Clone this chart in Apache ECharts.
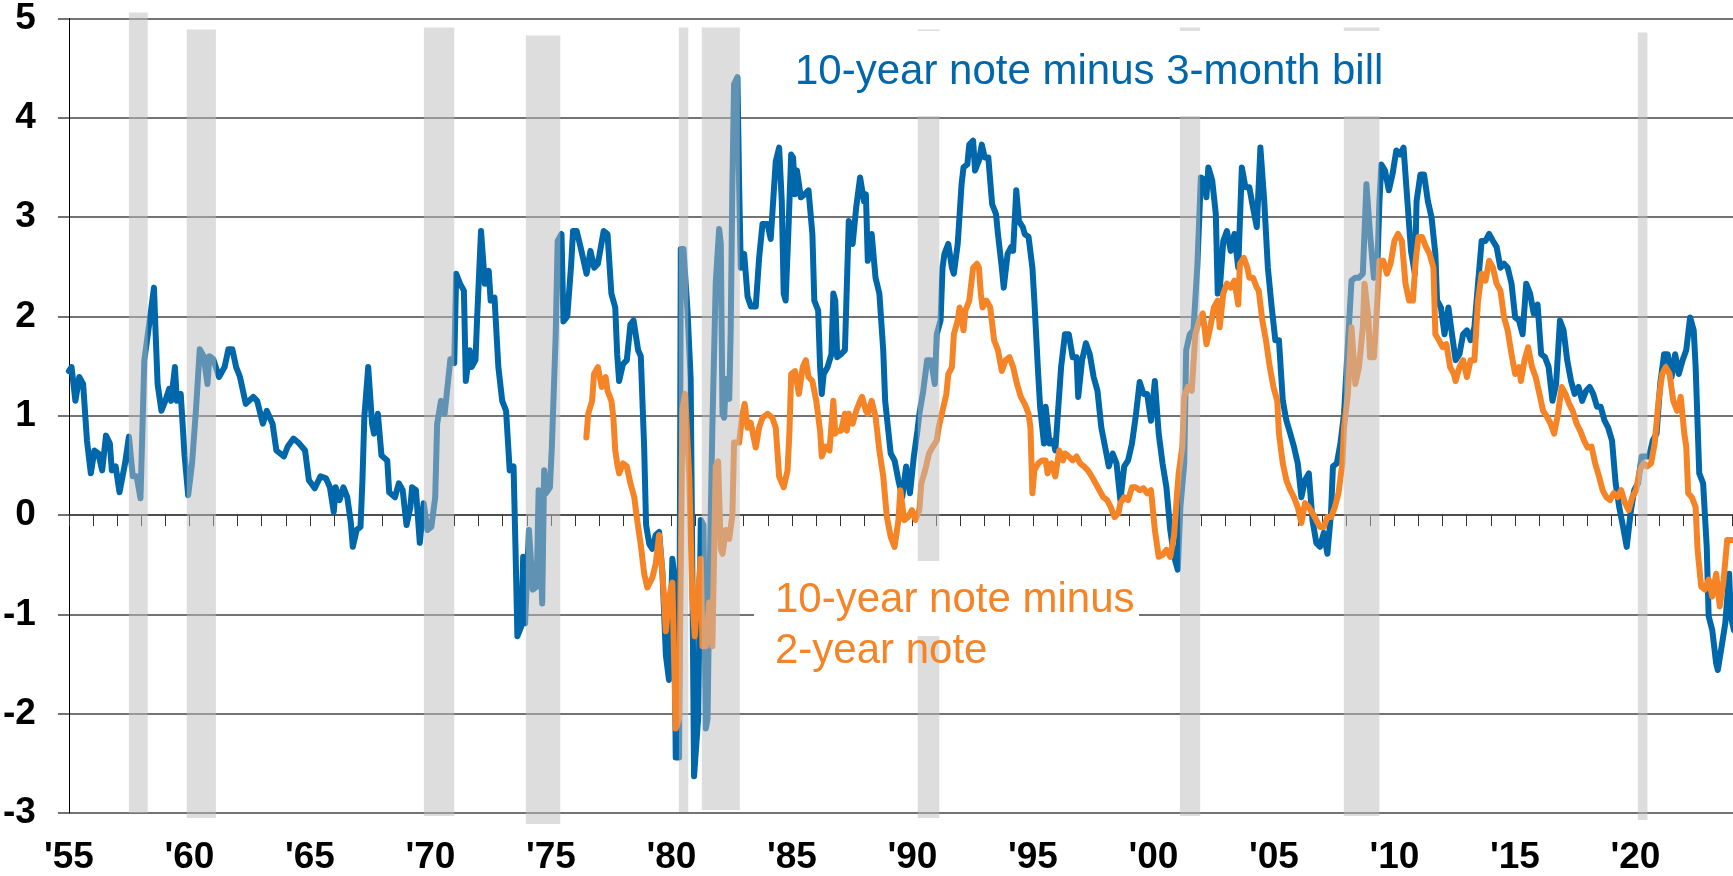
<!DOCTYPE html>
<html>
<head>
<meta charset="utf-8">
<title>Yield curve spreads</title>
<script src="https://cdn.jsdelivr.net/npm/echarts@6/dist/echarts.min.js"></script>
<style>
  html, body { margin: 0; padding: 0; background: #fff; }
  #chart { width: 1733px; height: 876px; }
</style>
</head>
<body>
<div id="chart"></div>
<script>
// 10-year note minus 3-month bill, [year, spread in pct points]
const spread10y3m = [
  [1955.0, 1.45], [1955.11, 1.49], [1955.27, 1.15], [1955.43, 1.39], [1955.59, 1.32], [1955.75, 0.75],
  [1955.91, 0.42], [1956.06, 0.65], [1956.22, 0.62], [1956.38, 0.45], [1956.54, 0.8], [1956.7, 0.72],
  [1956.78, 0.45], [1956.94, 0.49], [1957.1, 0.23], [1957.33, 0.52], [1957.49, 0.79], [1957.65, 0.39],
  [1957.81, 0.39], [1957.97, 0.17], [1958.13, 1.56], [1958.37, 1.99], [1958.53, 2.29], [1958.6, 1.82],
  [1958.68, 1.32], [1958.84, 1.05], [1959.0, 1.15], [1959.16, 1.27], [1959.24, 1.15], [1959.4, 1.49],
  [1959.48, 1.15], [1959.64, 1.22], [1959.8, 0.6], [1959.95, 0.2], [1960.11, 0.52], [1960.27, 1.05],
  [1960.43, 1.67], [1960.59, 1.6], [1960.75, 1.32], [1960.83, 1.6], [1960.99, 1.57], [1961.23, 1.39],
  [1961.46, 1.49], [1961.62, 1.67], [1961.78, 1.67], [1961.94, 1.49], [1962.1, 1.39], [1962.34, 1.12],
  [1962.65, 1.19], [1962.81, 1.15], [1963.05, 0.92], [1963.21, 1.05], [1963.45, 0.92], [1963.61, 0.65],
  [1963.92, 0.59], [1964.08, 0.69], [1964.32, 0.77], [1964.56, 0.72], [1964.8, 0.65], [1964.96, 0.35],
  [1965.2, 0.27], [1965.44, 0.39], [1965.67, 0.37], [1965.83, 0.28], [1965.99, 0.03], [1966.07, 0.28],
  [1966.23, 0.15], [1966.39, 0.28], [1966.55, 0.18], [1966.7, -0.08], [1966.78, -0.32], [1966.94, -0.15],
  [1967.1, -0.12], [1967.18, 0.35], [1967.26, 0.99], [1967.42, 1.49], [1967.58, 0.92], [1967.66, 0.82],
  [1967.82, 1.02], [1967.97, 0.6], [1968.21, 0.55], [1968.29, 0.23], [1968.53, 0.18], [1968.69, 0.32],
  [1968.85, 0.25], [1969.01, -0.1], [1969.17, 0.08], [1969.24, 0.28], [1969.4, 0.25], [1969.56, -0.28],
  [1969.72, 0.12], [1969.88, -0.15], [1970.04, -0.12], [1970.2, 0.18], [1970.28, 0.92], [1970.44, 1.15],
  [1970.59, 1.02], [1970.83, 1.57], [1970.99, 1.53], [1971.07, 2.43], [1971.23, 2.33], [1971.39, 2.26],
  [1971.47, 1.35], [1971.63, 1.66], [1971.71, 1.49], [1971.87, 1.56], [1971.94, 1.99], [1972.1, 2.86],
  [1972.26, 2.33], [1972.42, 2.46], [1972.5, 2.16], [1972.66, 2.19], [1972.82, 1.49], [1972.98, 1.15],
  [1973.14, 1.05], [1973.29, 0.45], [1973.45, 0.49], [1973.53, -0.32], [1973.61, -1.22], [1973.77, -1.12],
  [1973.85, -0.42], [1973.93, -1.09], [1974.09, -0.15], [1974.25, -0.75], [1974.41, -0.72], [1974.49, 0.25],
  [1974.64, -0.89], [1974.72, 0.45], [1974.8, 0.22], [1974.96, 0.28], [1975.04, 0.69], [1975.2, 1.82],
  [1975.28, 2.76], [1975.44, 2.83], [1975.52, 1.95], [1975.68, 2.0], [1975.84, 2.52], [1975.92, 2.86],
  [1976.07, 2.86], [1976.23, 2.7], [1976.48, 2.43], [1976.64, 2.66], [1976.8, 2.49], [1976.95, 2.53],
  [1977.19, 2.86], [1977.35, 2.83], [1977.51, 2.23], [1977.67, 2.09], [1977.75, 1.62], [1977.83, 1.35],
  [1977.99, 1.52], [1978.15, 1.56], [1978.3, 1.92], [1978.43, 1.96], [1978.62, 1.66], [1978.73, 1.6],
  [1978.87, 0.68], [1978.95, -0.1], [1979.08, -0.29], [1979.21, -0.34], [1979.35, -0.2], [1979.49, -0.17],
  [1979.63, -0.59], [1979.77, -1.41], [1979.9, -1.66], [1980.04, -0.44], [1980.11, -0.59], [1980.18, -2.44],
  [1980.32, -2.44], [1980.39, 2.68], [1980.5, 2.68], [1980.67, 2.05], [1980.8, 1.37], [1980.87, -0.59],
  [1980.94, -2.63], [1981.01, -2.63], [1981.11, -2.05], [1981.22, -0.05], [1981.33, -0.1], [1981.43, -2.15],
  [1981.5, -2.05], [1981.57, -0.83], [1981.7, 0.88], [1981.84, 2.34], [1981.98, 2.88], [1982.05, 2.73],
  [1982.12, 1.02], [1982.19, 0.98], [1982.26, 1.37], [1982.4, 1.17], [1982.46, 1.85], [1982.53, 3.32],
  [1982.6, 4.34], [1982.74, 4.41], [1982.81, 3.32], [1982.88, 2.49], [1983.02, 2.63], [1983.16, 2.2],
  [1983.3, 2.1], [1983.5, 2.1], [1983.64, 2.59], [1983.78, 2.93], [1983.99, 2.93], [1984.12, 2.78],
  [1984.33, 3.56], [1984.47, 3.7], [1984.58, 3.16], [1984.66, 2.23], [1984.74, 2.16], [1984.85, 2.83],
  [1984.97, 3.63], [1985.05, 3.6], [1985.13, 3.23], [1985.21, 3.47], [1985.37, 3.2], [1985.53, 3.23],
  [1985.69, 3.27], [1985.85, 2.83], [1985.93, 2.16], [1986.09, 2.06], [1986.17, 1.49], [1986.24, 1.22],
  [1986.32, 1.42], [1986.48, 1.49], [1986.64, 1.62], [1986.72, 2.23], [1986.8, 2.16], [1986.88, 1.59],
  [1987.04, 1.62], [1987.2, 1.66], [1987.36, 2.96], [1987.52, 2.73], [1987.67, 3.1], [1987.83, 3.4],
  [1987.99, 3.16], [1988.07, 3.23], [1988.15, 2.56], [1988.31, 2.83], [1988.39, 2.83], [1988.47, 2.39],
  [1988.63, 2.23], [1988.79, 1.66], [1988.87, 1.15], [1989.1, 0.62], [1989.26, 0.55], [1989.42, 0.35],
  [1989.58, 0.18], [1989.74, 0.49], [1989.9, 0.22], [1990.06, 0.59], [1990.21, 0.85], [1990.29, 1.02],
  [1990.45, 1.25], [1990.61, 1.56], [1990.77, 1.56], [1990.93, 1.32], [1991.01, 1.82], [1991.17, 1.96],
  [1991.25, 2.49], [1991.33, 2.63], [1991.49, 2.73], [1991.64, 2.49], [1991.72, 2.43], [1991.88, 2.73],
  [1992.04, 3.33], [1992.12, 3.5], [1992.28, 3.53], [1992.36, 3.73], [1992.52, 3.77], [1992.6, 3.47],
  [1992.76, 3.57], [1992.88, 3.73], [1993.0, 3.6], [1993.15, 3.6], [1993.31, 3.13], [1993.47, 3.03],
  [1993.55, 2.83], [1993.71, 2.49], [1993.79, 2.29], [1993.95, 2.63], [1994.1, 2.7], [1994.18, 2.66],
  [1994.31, 3.27], [1994.42, 2.96], [1994.58, 2.9], [1994.66, 2.83], [1994.82, 2.8], [1994.98, 2.49],
  [1995.06, 2.16], [1995.22, 1.42], [1995.3, 1.09], [1995.46, 0.72], [1995.53, 1.09], [1995.69, 0.72],
  [1995.85, 0.75], [1995.93, 0.65], [1996.17, 1.49], [1996.33, 1.82], [1996.49, 1.82], [1996.65, 1.59],
  [1996.81, 1.59], [1996.88, 1.19], [1997.04, 1.56], [1997.2, 1.73], [1997.36, 1.62], [1997.52, 1.39],
  [1997.68, 1.25], [1997.84, 0.88], [1998.0, 0.68], [1998.15, 0.49], [1998.31, 0.62], [1998.47, 0.52],
  [1998.63, 0.15], [1998.79, 0.49], [1998.95, 0.55], [1999.11, 0.72], [1999.27, 1.0], [1999.43, 1.34],
  [1999.59, 1.22], [1999.74, 1.22], [1999.9, 0.95], [2000.06, 1.35], [2000.22, 0.82], [2000.38, 0.52],
  [2000.54, 0.28], [2000.7, -0.15], [2000.86, -0.42], [2001.01, -0.55], [2001.12, 0.08], [2001.28, 0.52],
  [2001.36, 1.66], [2001.51, 1.82], [2001.66, 1.86], [2001.82, 2.49], [2001.97, 3.4], [2002.13, 3.37],
  [2002.2, 3.2], [2002.28, 3.5], [2002.44, 3.37], [2002.59, 3.03], [2002.67, 2.23], [2002.75, 2.26],
  [2002.9, 2.76], [2003.05, 2.86], [2003.21, 2.66], [2003.36, 2.83], [2003.52, 2.49], [2003.67, 3.5],
  [2003.82, 3.3], [2003.98, 3.3], [2004.13, 3.1], [2004.29, 2.9], [2004.44, 3.7], [2004.6, 3.16],
  [2004.75, 2.49], [2004.91, 2.09], [2005.06, 1.76], [2005.21, 1.76], [2005.37, 1.15], [2005.52, 0.95],
  [2005.68, 0.82], [2005.83, 0.69], [2005.99, 0.52], [2006.14, 0.18], [2006.29, 0.35], [2006.45, 0.42],
  [2006.6, -0.05], [2006.76, -0.28], [2006.91, -0.32], [2007.07, -0.18], [2007.22, -0.39], [2007.37, 0.02],
  [2007.45, 0.49], [2007.61, 0.52], [2007.76, 0.72], [2007.91, 1.02], [2008.07, 1.72], [2008.22, 2.36],
  [2008.38, 2.39], [2008.53, 2.39], [2008.69, 2.43], [2008.84, 3.33], [2008.99, 2.83], [2009.15, 2.39],
  [2009.3, 2.56], [2009.38, 3.16], [2009.46, 3.53], [2009.61, 3.47], [2009.77, 3.27], [2009.92, 3.43],
  [2010.08, 3.67], [2010.23, 3.63], [2010.38, 3.7], [2010.54, 3.16], [2010.69, 2.66], [2010.85, 2.43],
  [2010.92, 3.16], [2011.08, 3.43], [2011.23, 3.43], [2011.39, 3.16], [2011.54, 3.0], [2011.7, 2.63],
  [2011.77, 2.16], [2011.93, 2.09], [2012.08, 1.82], [2012.24, 2.09], [2012.39, 1.82], [2012.54, 1.56],
  [2012.7, 1.62], [2012.85, 1.82], [2013.01, 1.86], [2013.16, 1.76], [2013.32, 1.89], [2013.47, 2.33],
  [2013.62, 2.76], [2013.78, 2.76], [2013.93, 2.83], [2014.09, 2.76], [2014.24, 2.7], [2014.4, 2.49],
  [2014.55, 2.53], [2014.7, 2.49], [2014.86, 2.33], [2015.01, 1.99], [2015.17, 1.96], [2015.32, 1.82],
  [2015.47, 2.33], [2015.63, 2.23], [2015.78, 2.03], [2015.94, 2.12], [2016.09, 1.62], [2016.25, 1.59],
  [2016.4, 1.49], [2016.56, 1.15], [2016.71, 1.32], [2016.87, 1.96], [2017.02, 1.86], [2017.17, 1.56],
  [2017.33, 1.35], [2017.48, 1.22], [2017.64, 1.29], [2017.79, 1.15], [2017.95, 1.25], [2018.1, 1.29],
  [2018.25, 1.22], [2018.41, 1.09], [2018.56, 1.09], [2018.72, 0.95], [2018.87, 0.88], [2019.03, 0.75],
  [2019.18, 0.32], [2019.33, 0.08], [2019.49, -0.12], [2019.64, -0.32], [2019.8, 0.02], [2019.95, 0.25],
  [2020.11, 0.32], [2020.26, 0.59], [2020.41, 0.59], [2020.57, 0.59], [2020.72, 0.75], [2020.88, 0.82],
  [2021.03, 1.32], [2021.19, 1.62], [2021.34, 1.62], [2021.5, 1.39], [2021.65, 1.62], [2021.8, 1.42],
  [2021.96, 1.56], [2022.11, 1.66], [2022.27, 1.99], [2022.42, 1.86], [2022.5, 1.49], [2022.65, 0.42],
  [2022.81, 0.32], [2022.96, -0.32], [2023.04, -1.02], [2023.19, -1.16], [2023.35, -1.49], [2023.42, -1.56],
  [2023.58, -1.32], [2023.73, -1.09], [2023.89, -0.59], [2023.96, -1.02], [2024.09, -1.16]
];

// 10-year note minus 2-year note, [year, spread in pct points]
const spread10y2y = [
  [1976.47, 0.78], [1976.55, 1.02], [1976.71, 1.15], [1976.79, 1.42], [1976.95, 1.49], [1977.11, 1.29],
  [1977.27, 1.39], [1977.35, 1.25], [1977.51, 1.15], [1977.59, 0.99], [1977.67, 0.65], [1977.75, 0.52],
  [1977.83, 0.42], [1977.99, 0.52], [1978.15, 0.49], [1978.3, 0.32], [1978.46, 0.18], [1978.54, 0.02],
  [1978.62, -0.12], [1978.73, -0.3], [1978.87, -0.59], [1979.0, -0.73], [1979.21, -0.63], [1979.35, -0.49],
  [1979.49, -0.2], [1979.63, -0.59], [1979.77, -1.17], [1979.9, -0.83], [1980.04, -0.68], [1980.18, -2.15],
  [1980.32, -2.05], [1980.46, 1.07], [1980.57, 1.22], [1980.74, 0.39], [1980.87, -0.83], [1980.97, -1.22],
  [1981.08, -0.83], [1981.22, -0.44], [1981.29, -1.32], [1981.43, -1.32], [1981.57, -0.88], [1981.7, -1.32],
  [1981.84, 0.49], [1981.94, 0.54], [1982.05, -0.34], [1982.12, -0.39], [1982.26, -0.15], [1982.4, -0.24],
  [1982.53, 0.0], [1982.6, 0.73], [1982.81, 0.73], [1982.95, 1.02], [1983.04, 1.12], [1983.16, 0.88],
  [1983.29, 0.93], [1983.5, 0.68], [1983.64, 0.88], [1983.78, 0.98], [1983.99, 1.02], [1984.19, 0.98],
  [1984.33, 0.88], [1984.47, 0.39], [1984.66, 0.28], [1984.82, 0.45], [1984.9, 0.85], [1984.97, 1.42],
  [1985.13, 1.45], [1985.29, 1.22], [1985.45, 1.49], [1985.58, 1.56], [1985.69, 1.39], [1985.85, 1.35],
  [1986.01, 1.15], [1986.17, 0.85], [1986.24, 0.59], [1986.4, 0.69], [1986.56, 0.65], [1986.72, 1.15],
  [1986.8, 0.82], [1986.88, 0.85], [1987.04, 0.85], [1987.2, 1.02], [1987.28, 0.85], [1987.36, 1.02],
  [1987.52, 0.92], [1987.67, 1.05], [1987.83, 1.15], [1987.91, 1.19], [1988.07, 1.05], [1988.15, 1.02],
  [1988.31, 1.15], [1988.47, 0.99], [1988.63, 0.65], [1988.79, 0.39], [1988.94, -0.02], [1989.1, -0.22],
  [1989.26, -0.32], [1989.42, -0.05], [1989.5, 0.25], [1989.66, -0.05], [1989.82, -0.02], [1989.98, 0.05],
  [1990.13, -0.05], [1990.29, 0.05], [1990.37, 0.32], [1990.53, 0.45], [1990.69, 0.62], [1990.85, 0.69],
  [1991.01, 0.75], [1991.09, 0.88], [1991.25, 1.05], [1991.41, 1.22], [1991.49, 1.42], [1991.64, 1.49],
  [1991.72, 1.82], [1991.88, 1.96], [1991.96, 2.09], [1992.12, 1.86], [1992.2, 2.06], [1992.36, 2.16],
  [1992.52, 2.49], [1992.68, 2.53], [1992.76, 2.49], [1992.84, 2.23], [1992.91, 2.09], [1993.07, 2.16],
  [1993.23, 2.09], [1993.39, 1.76], [1993.55, 1.66], [1993.71, 1.45], [1993.87, 1.56], [1994.03, 1.59],
  [1994.18, 1.49], [1994.34, 1.32], [1994.5, 1.19], [1994.66, 1.12], [1994.82, 1.02], [1994.9, 0.88],
  [1994.98, 0.22], [1995.06, 0.45], [1995.22, 0.52], [1995.38, 0.55], [1995.53, 0.55], [1995.61, 0.42],
  [1995.77, 0.52], [1995.93, 0.39], [1996.09, 0.65], [1996.25, 0.55], [1996.33, 0.62], [1996.49, 0.59],
  [1996.65, 0.55], [1996.81, 0.59], [1996.96, 0.52], [1997.12, 0.49], [1997.28, 0.45], [1997.44, 0.39],
  [1997.6, 0.32], [1997.76, 0.25], [1997.92, 0.18], [1998.08, 0.15], [1998.23, 0.08], [1998.39, -0.02],
  [1998.55, 0.02], [1998.63, 0.12], [1998.79, 0.18], [1998.95, 0.15], [1999.11, 0.28], [1999.27, 0.28],
  [1999.43, 0.25], [1999.59, 0.27], [1999.74, 0.22], [1999.9, 0.25], [2000.06, -0.15], [2000.22, -0.42],
  [2000.38, -0.4], [2000.54, -0.35], [2000.7, -0.42], [2000.86, -0.2], [2000.97, 0.18], [2001.05, 0.42],
  [2001.2, 0.69], [2001.28, 1.19], [2001.43, 1.29], [2001.59, 1.25], [2001.74, 1.82], [2001.9, 1.96],
  [2002.05, 2.03], [2002.2, 1.72], [2002.36, 1.89], [2002.51, 2.09], [2002.67, 2.16], [2002.75, 1.89],
  [2002.9, 2.23], [2003.05, 2.33], [2003.21, 2.29], [2003.36, 2.36], [2003.52, 2.12], [2003.59, 2.53],
  [2003.75, 2.59], [2003.9, 2.49], [2003.98, 2.39], [2004.13, 2.39], [2004.29, 2.29], [2004.37, 2.26],
  [2004.52, 1.96], [2004.67, 1.76], [2004.83, 1.49], [2004.98, 1.29], [2005.14, 1.15], [2005.21, 0.82],
  [2005.37, 0.52], [2005.52, 0.35], [2005.68, 0.25], [2005.83, 0.18], [2005.99, 0.08], [2006.14, -0.08],
  [2006.29, 0.12], [2006.45, 0.08], [2006.6, 0.02], [2006.76, -0.05], [2006.91, -0.12], [2007.07, -0.12],
  [2007.22, -0.02], [2007.37, -0.02], [2007.53, 0.08], [2007.68, 0.22], [2007.84, 0.52], [2007.91, 0.88],
  [2008.07, 1.22], [2008.22, 1.89], [2008.38, 1.32], [2008.53, 1.49], [2008.69, 1.89], [2008.76, 2.33],
  [2008.92, 1.99], [2008.99, 1.59], [2009.15, 1.59], [2009.23, 1.89], [2009.38, 2.56], [2009.54, 2.56],
  [2009.69, 2.43], [2009.84, 2.53], [2010.0, 2.76], [2010.15, 2.83], [2010.31, 2.76], [2010.46, 2.33],
  [2010.61, 2.16], [2010.77, 2.16], [2010.88, 2.56], [2011.0, 2.8], [2011.15, 2.8], [2011.31, 2.7],
  [2011.46, 2.63], [2011.62, 2.49], [2011.7, 1.82], [2011.85, 1.76], [2012.0, 1.69], [2012.16, 1.72],
  [2012.31, 1.49], [2012.47, 1.42], [2012.54, 1.35], [2012.7, 1.49], [2012.85, 1.56], [2013.01, 1.39],
  [2013.16, 1.56], [2013.32, 1.56], [2013.47, 2.16], [2013.62, 2.43], [2013.78, 2.36], [2013.93, 2.56],
  [2014.09, 2.49], [2014.24, 2.33], [2014.4, 2.26], [2014.55, 1.99], [2014.7, 1.86], [2014.86, 1.62],
  [2015.01, 1.42], [2015.17, 1.49], [2015.25, 1.35], [2015.4, 1.56], [2015.55, 1.69], [2015.71, 1.49],
  [2015.86, 1.39], [2016.02, 1.22], [2016.17, 1.05], [2016.33, 0.99], [2016.48, 0.92], [2016.63, 0.82],
  [2016.79, 1.02], [2016.94, 1.29], [2017.1, 1.22], [2017.25, 1.12], [2017.4, 1.05], [2017.56, 0.92],
  [2017.71, 0.85], [2017.87, 0.75], [2018.02, 0.68], [2018.18, 0.69], [2018.33, 0.52], [2018.49, 0.39],
  [2018.64, 0.25], [2018.79, 0.18], [2018.95, 0.15], [2019.1, 0.22], [2019.26, 0.18], [2019.41, 0.25],
  [2019.57, 0.12], [2019.72, 0.05], [2019.87, 0.18], [2020.03, 0.25], [2020.18, 0.45], [2020.34, 0.52],
  [2020.49, 0.49], [2020.65, 0.52], [2020.8, 0.72], [2020.96, 1.15], [2021.11, 1.42], [2021.26, 1.49],
  [2021.42, 1.42], [2021.57, 1.15], [2021.73, 1.05], [2021.88, 1.19], [2022.03, 0.82], [2022.11, 0.69],
  [2022.19, 0.22], [2022.34, 0.18], [2022.5, 0.08], [2022.58, -0.35], [2022.73, -0.72], [2022.88, -0.75],
  [2023.04, -0.65], [2023.19, -0.82], [2023.35, -0.59], [2023.5, -0.92], [2023.66, -0.65], [2023.81, -0.25],
  [2023.96, -0.25], [2024.09, -0.25]
];

// recession shading: [start, end, top, bottom]
const recessions = [
  [1957.49, 1958.27, 5.06, -3.0],
  [1959.89, 1961.1, 4.89, -3.05],
  [1969.73, 1970.99, 4.91, -3.03],
  [1973.96, 1975.39, 4.83, -3.11],
  [1980.31, 1980.7, 4.91, -2.99],
  [1981.26, 1982.84, 4.91, -2.97],
  [1990.22, 1991.12, 4.89, -3.05],
  [2001.1, 2001.94, 4.91, -3.03],
  [2007.9, 2009.38, 4.91, -3.03],
  [2020.1, 2020.5, 4.86, -3.07]
];

const blue = "#0067aa";
const orange = "#f58427";
const gridColor = "#444";
const font = "'Liberation Sans', Arial, sans-serif";

const chart = echarts.init(document.getElementById("chart"));

chart.setOption({
  animation: false,
  grid: { left: 68, right: 0, top: 17.5, bottom: 63 },
  xAxis: [
    {
      // year ticks hanging off the zero line
      type: "value",
      min: 1955,
      max: 2024.05,
      interval: 1,
      axisLine: { onZero: true, lineStyle: { color: gridColor, width: 1.5 } },
      axisTick: { show: true, length: 11, lineStyle: { color: "#333", width: 1 } },
      axisLabel: { show: false },
      splitLine: { show: false }
    },
    {
      // year labels along the bottom
      type: "value",
      min: 1955,
      max: 2024.05,
      interval: 5,
      position: "bottom",
      axisLine: { show: false, onZero: false },
      axisTick: { show: false },
      splitLine: { show: false },
      axisLabel: {
        margin: 26,
        fontFamily: font,
        fontWeight: "bold",
        fontSize: 37,
        color: "#000",
        showMaxLabel: false,
        formatter: function (v) {
          return v % 5 === 0 ? "'" + String(v).slice(2) : "";
        }
      }
    }
  ],
  yAxis: {
    type: "value",
    min: -3,
    max: 5,
    interval: 1,
    axisLine: { show: true, onZero: false, lineStyle: { color: "#000", width: 1 } },
    axisTick: { show: true, length: 11, lineStyle: { color: gridColor, width: 1.5 } },
    splitLine: { show: true, lineStyle: { color: gridColor, width: 1.5 } },
    axisLabel: {
      margin: 33,
      fontFamily: font,
      fontWeight: "bold",
      fontSize: 37,
      color: "#000"
    }
  },
  series: [
    {
      name: "10-year note minus 3-month bill",
      type: "line",
      data: spread10y3m,
      showSymbol: false,
      symbol: "none",
      z: 2,
      lineStyle: { color: blue, width: 6, cap: "round", join: "round" }
    },
    {
      name: "10-year note minus 2-year note",
      type: "line",
      data: spread10y2y,
      showSymbol: false,
      symbol: "none",
      z: 3,
      lineStyle: { color: orange, width: 6, cap: "round", join: "round" }
    },
    {
      name: "Recessions",
      type: "custom",
      data: recessions,
      dimensions: ["start", "end", "top", "bottom"],
      encode: { x: ["start", "end"], y: ["top", "bottom"] },
      clip: false,
      z: 4,
      renderItem: function (params, api) {
        const a = api.coord([api.value(0), api.value(2)]);
        const b = api.coord([api.value(1), api.value(3)]);
        return {
          type: "rect",
          shape: { x: a[0], y: a[1], width: b[0] - a[0], height: b[1] - a[1] },
          style: { fill: "rgba(188,188,188,0.51)" }
        };
      }
    }
  ],
  graphic: [
    { type: "rect", z: 50, shape: { x: 755, y: 31, width: 645, height: 85 }, style: { fill: "#fff" } },
    {
      type: "text", z: 51, x: 795, y: 72,
      style: { text: "10-year note minus 3-month bill", fill: blue, font: "42px " + font, verticalAlign: "middle" }
    },
    { type: "rect", z: 50, shape: { x: 754, y: 561, width: 385, height: 75 }, style: { fill: "#fff" } },
    {
      type: "text", z: 51, x: 775, y: 600,
      style: { text: "10-year note minus", fill: orange, font: "42px " + font, verticalAlign: "middle" }
    },
    {
      type: "text", z: 51, x: 775, y: 651,
      style: { text: "2-year note", fill: orange, font: "42px " + font, verticalAlign: "middle" }
    }
  ]
});
</script>
</body>
</html>
